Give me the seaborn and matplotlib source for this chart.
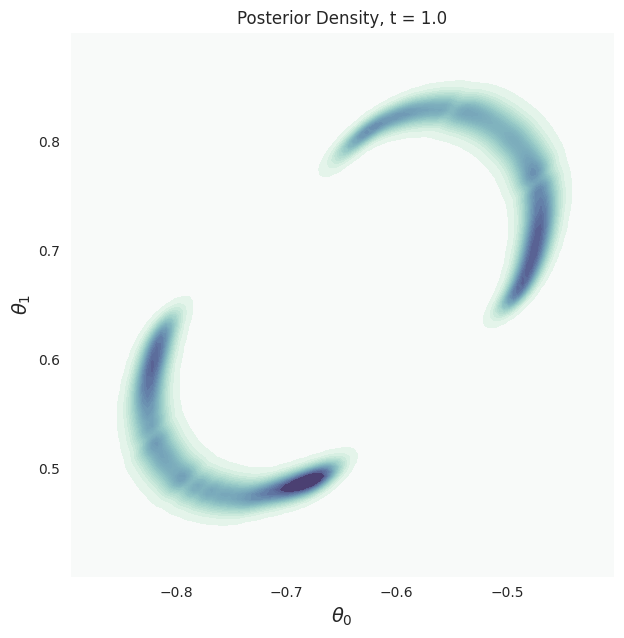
import matplotlib
matplotlib.use("Agg")
import matplotlib.pyplot as plt
import pandas as pd
import seaborn as sns

# ridge points of the two crescents (theta_0, theta_1)
lower_theta0 = [-0.8084, -0.8130, -0.8170, -0.8199, -0.8227, -0.8245, -0.8251,
                -0.8245, -0.8227, -0.8197, -0.8175, -0.8145, -0.8115, -0.8084,
                -0.8048, -0.8009, -0.7964, -0.7918, -0.7812, -0.7692, -0.7571,
                -0.7450, -0.7329, -0.7209, -0.7087, -0.6966, -0.6846, -0.6724,
                -0.6604]
lower_theta1 = [0.6367, 0.6245, 0.6122, 0.5999, 0.5878, 0.5755, 0.5633,
                0.5511, 0.5388, 0.5266, 0.5211, 0.5159, 0.5113, 0.5067,
                0.5021, 0.4975, 0.4936, 0.4899, 0.4838, 0.4792, 0.4761,
                0.4746, 0.4746, 0.4771, 0.4807, 0.4838, 0.4874, 0.4906,
                0.4945]
lower_weight = [0.3, 0.6, 0.75, 0.8, 0.8, 0.8, 0.75, 0.7, 0.7, 0.55, 0.36,
                0.36, 0.36, 0.36, 0.36, 0.36, 0.36, 0.55, 0.7, 0.7, 0.65, 0.6,
                0.6, 0.6, 0.7, 0.85, 1.0, 1.05, 0.45]

upper_theta0 = [-0.6513, -0.6422, -0.6316, -0.6211, -0.6090, -0.5969, -0.5849,
                -0.5713, -0.5577, -0.5441, -0.5365, -0.5305, -0.5244, -0.5183,
                -0.5123, -0.5063, -0.5008, -0.4957, -0.4911, -0.4866, -0.4830,
                -0.4797, -0.4770, -0.4745, -0.4715, -0.4700, -0.4700, -0.4715,
                -0.4736, -0.4766, -0.4806, -0.4857, -0.4917, -0.4972]
upper_theta1 = [0.7860, 0.7972, 0.8064, 0.8140, 0.8202, 0.8248, 0.8278,
                0.8300, 0.8303, 0.8287, 0.8272, 0.8254, 0.8229, 0.8202,
                0.8165, 0.8126, 0.8080, 0.8034, 0.7982, 0.7927, 0.7865,
                0.7805, 0.7743, 0.7682, 0.7560, 0.7438, 0.7315, 0.7193,
                0.7071, 0.6948, 0.6826, 0.6704, 0.6596, 0.6520]
upper_weight = [0.12, 0.32, 0.42, 0.45, 0.45, 0.5, 0.55, 0.6, 0.65, 0.5, 0.36,
                0.38, 0.38, 0.38, 0.4, 0.4, 0.4, 0.42, 0.42, 0.42, 0.44, 0.44,
                0.45, 0.6, 0.85, 0.85, 0.85, 0.85, 0.85, 0.8, 0.75, 0.65, 0.5,
                0.3]

x_range = (-0.896, -0.403)
y_range = (0.401, 0.901)

df = pd.DataFrame({
    "theta0": lower_theta0 + upper_theta0,
    "theta1": lower_theta1 + upper_theta1,
    "w": lower_weight + upper_weight,
})

sns.set_style("dark")
fig, ax = plt.subplots(figsize=(6.24, 6.38), dpi=100)
fig.subplots_adjust(left=0.112, right=0.984, bottom=0.096, top=0.95)
ax.set_facecolor("#f8faf9")

cmap = sns.cubehelix_palette(start=0.5, rot=-0.5, light=0.95, dark=0.2, as_cmap=True)
sns.kdeplot(
    data=df, x="theta0", y="theta1", weights="w", fill=True, thresh=0.01,
    levels=30, cmap=cmap, bw_adjust=0.145, gridsize=120,
    clip=(x_range, y_range), cut=10, ax=ax,
)
ax.set_xlim(*x_range)
ax.set_ylim(*y_range)
ax.set_xticks([-0.8, -0.7, -0.6, -0.5])
ax.set_yticks([0.5, 0.6, 0.7, 0.8])
ax.tick_params(labelsize=10)
ax.set_xlabel(r"$\theta_0$", fontsize=14)
ax.set_ylabel(r"$\theta_1$", fontsize=14)
ax.set_title("Posterior Density, t = 1.0", fontsize=12)

plt.savefig("out.png")
